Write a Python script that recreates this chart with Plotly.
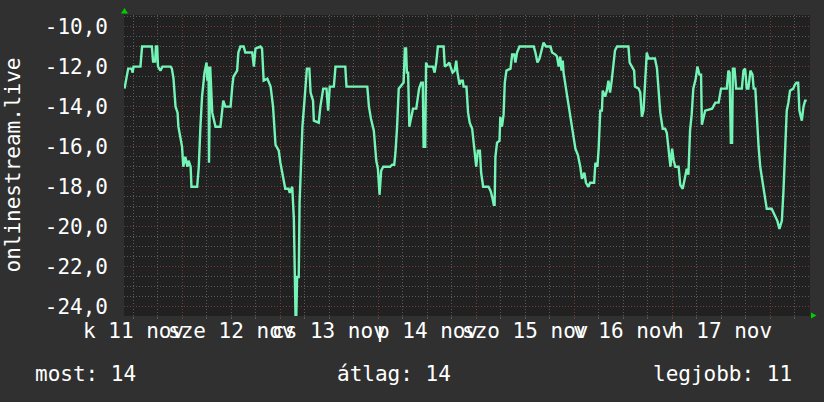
import pandas as pd
import plotly.graph_objects as go

# ---------------- data ----------------
start = "2025-11-11 00:00"
# hours since start
hours = [9.8, 10.2, 10.7, 11.5, 11.8, 12.0, 13.7, 14.1, 16.5, 16.8, 17.3, 17.5, 17.8, 18.0, 18.6, 19.1,
         21.1, 21.4, 21.8, 22.3, 22.8, 23.0, 23.9, 24.2, 24.7, 25.2, 25.5, 26.0, 26.2, 27.6, 28.0, 28.4,
         28.8, 29.4, 29.9, 30.1, 30.4, 30.5, 30.8, 31.3, 32.1, 33.3, 34.0, 34.5, 35.8, 36.2, 36.5, 37.4,
         37.7, 38.2, 39.0, 39.4, 41.1, 41.5, 41.9, 43.1, 43.5, 43.9, 44.8, 45.6, 46.2, 46.8, 47.6, 48.0,
         48.7, 49.2, 50.0, 50.3, 50.9, 51.3, 51.7, 51.9, 52.1, 52.5, 52.7, 53.1, 53.4, 53.9, 54.5, 55.1,
         55.4, 56.0, 56.2, 57.4, 57.8, 58.5, 59.3, 59.7, 60.1, 61.1, 61.5, 63.9, 64.2, 69.3, 69.7, 70.2,
         70.9, 71.5, 71.9, 72.3, 72.7, 73.2, 74.9, 75.4, 75.9, 76.2, 76.6, 77.0, 77.8, 78.2, 78.5, 78.8,
         79.0, 79.3, 79.6, 80.0, 80.5, 81.3, 81.6, 82.0, 82.5, 82.9, 83.1, 83.5, 83.7, 84.1, 85.4, 85.8,
         86.2, 86.6, 88.0, 88.3, 89.0, 89.4, 89.7, 90.2, 90.7, 91.1, 91.4, 91.9, 92.3, 92.7, 92.9, 93.6,
         94.0, 94.4, 95.0, 95.6, 96.0, 96.4, 96.9, 97.2, 97.7, 99.0, 99.5, 99.9, 100.3, 100.5, 100.7, 101.1,
         101.7, 101.9, 102.3, 102.7, 103.0, 103.4, 104.4, 104.8, 105.3, 105.6, 106.0, 106.6, 110.1, 110.5,
         111.0, 111.5, 112.0, 112.5, 113.1, 114.2, 114.6, 115.4, 115.8, 116.2, 116.6, 116.9, 117.2, 117.4,
         118.3, 119.1, 119.6, 120.3, 120.9, 121.5, 121.9, 122.5, 122.9, 123.5, 123.9, 124.9, 125.2, 125.7,
         126.0, 126.4, 126.8, 127.0, 127.6, 128.0, 128.4, 128.8, 129.2, 129.6, 130.0, 130.5, 133.3, 133.6,
         134.1, 134.7, 134.9, 135.8, 136.2, 136.6, 137.0, 137.4, 137.8, 138.2, 139.8, 140.3, 140.7, 141.1,
         141.7, 142.3, 142.7, 143.1, 143.6, 144.0, 144.4, 144.8, 145.6, 146.0, 146.6, 147.2, 147.6, 148.0,
         148.4, 148.8, 149.2, 149.8, 150.2, 150.7, 151.1, 151.3, 151.7, 152.1, 153.8, 154.6, 155.4, 156.0,
         157.4, 157.8, 158.1, 158.4, 158.7, 158.9, 159.3, 159.7, 161.1, 161.5, 161.9, 162.3, 162.7, 163.2,
         163.7, 164.0, 164.4, 164.8, 165.2, 165.6, 166.2, 166.8, 167.2, 168.4, 169.2, 169.8, 170.3, 170.9,
         171.3, 171.7, 172.1, 172.5, 172.9, 173.7, 174.1, 174.5, 174.9, 175.2, 175.5, 175.8, 176.2, 176.6,
         177.0]
values = [-13.1, -12.7, -12.1, -12.1, -12.3, -12.0, -12.0, -11.0, -11.0, -11.75, -11.75, -11.0, -11.0, -12.0, -12.2, -12.0,
          -12.0, -12.1, -12.6, -14.0, -14.3, -15.0, -16.0, -17.0, -16.5, -17.0, -16.7, -17.0, -18.0, -18.0, -17.0, -15.0,
          -13.5, -12.3, -11.8, -12.7, -12.0, -16.8, -12.0, -14.3, -15.0, -15.0, -13.7, -14.0, -14.0, -13.0, -12.5, -12.2,
          -11.3, -11.0, -11.0, -11.3, -11.3, -12.0, -11.1, -11.0, -11.1, -12.7, -12.6, -13.0, -14.0, -15.9, -16.2, -16.8,
          -17.5, -18.1, -18.1, -18.3, -18.0, -19.6, -24.4, -24.4, -22.5, -22.5, -18.8, -16.2, -15.0, -13.7, -12.1, -12.1,
          -13.3, -13.7, -14.7, -14.8, -14.0, -13.1, -13.1, -14.2, -13.0, -13.0, -12.0, -12.0, -13.0, -13.0, -14.0, -14.6,
          -15.2, -16.7, -17.1, -18.4, -17.2, -17.0, -17.0, -16.9, -16.9, -16.3, -15.0, -13.1, -12.9, -12.8, -11.1, -11.1,
          -12.3, -12.3, -15.0, -14.5, -14.1, -14.1, -13.7, -13.1, -12.8, -12.8, -16.0, -16.0, -11.8, -12.0, -12.0, -12.3,
          -11.8, -11.0, -11.0, -12.0, -11.9, -11.8, -12.0, -12.3, -12.2, -11.7, -12.3, -12.9, -12.7, -12.7, -13.0, -13.0,
          -14.3, -14.8, -15.1, -16.2, -17.0, -16.2, -16.2, -17.3, -18.0, -18.0, -18.2, -18.5, -18.9, -18.9, -16.5, -15.8,
          -15.7, -14.5, -15.0, -14.4, -12.8, -12.2, -12.1, -11.4, -11.4, -11.8, -11.3, -11.0, -11.0, -11.3,
          -11.8, -11.6, -11.2, -10.8, -11.0, -11.0, -11.3, -11.4, -11.5, -12.0, -11.5, -12.2, -11.7, -12.3,
          -13.5, -14.5, -15.3, -16.1, -16.4, -17.0, -17.6, -17.3, -17.8, -18.0, -17.8, -17.8, -16.8, -17.0,
          -16.1, -14.2, -14.2, -13.2, -13.5, -13.2, -12.7, -13.3, -12.7, -12.0, -11.2, -11.0, -11.0, -11.8,
          -12.0, -12.2, -13.0, -13.1, -13.3, -14.5, -14.2, -12.7, -11.3, -11.6, -11.6, -12.1, -13.3, -14.3,
          -15.1, -15.1, -15.3, -16.2, -17.0, -16.1, -16.7, -17.0, -17.0, -17.9, -18.1, -17.5, -17.1, -17.4,
          -15.2, -14.4, -13.1, -12.6, -12.0, -12.4, -12.4, -14.9, -14.6, -14.2, -14.1, -13.8, -13.8, -13.1,
          -13.1, -12.2, -12.3, -15.8, -15.8, -12.1, -12.1, -13.1, -13.1, -12.2, -12.1, -13.1, -13.1, -12.2,
          -12.4, -13.1, -13.1, -14.8, -16.0, -17.0, -17.8, -18.8, -19.1, -19.1, -19.4, -19.7, -20.1, -19.7,
          -18.2, -15.8, -14.2, -13.8, -13.2, -13.1, -12.9, -12.8, -12.8, -14.2, -14.5, -14.7, -14.0, -13.7,
          -13.7]

view_hours = [9.67, 177.8]
y_range = [-24.45, -9.425]
day_labels = ["k 11 nov", "sze 12 nov", "cs 13 nov", "p 14 nov", "szo 15 nov", "v 16 nov", "h 17 nov"]
y_ticks = [-24, -22, -20, -18, -16, -14, -12, -10]
y_tick_labels = ["-24,0", "-22,0", "-20,0", "-18,0", "-16,0", "-14,0", "-12,0", "-10,0"]
axis_title = "onlinestream.live"
summary_labels = ["most: 14", "átlag: 14", "legjobb: 11"]

# ---------------- style ----------------
FONT = "DejaVu Sans Mono"
FS = 21
PAPER = "#303030"
PLOT = "#212121"
LINE = "#74f4b6"
MINOR = "#5a5a5a"
MAJOR = "#7a3838"
TXT = "#ffffff"
DOTS = "1px,2px"

t0 = pd.Timestamp(start)
def ts(h):
    return (t0 + pd.Timedelta(hours=h)).strftime("%Y-%m-%d %H:%M:%S")

times = [ts(h) for h in hours]
xr = [ts(view_hours[0]), ts(view_hours[1])]
midnights = [ts(24 * i) for i in range(1, 8)]
noons = [ts(12 + 24 * i) for i in range(len(day_labels))]

fig = go.Figure()
fig.add_trace(go.Scatter(x=times, y=values, mode="lines",
                         line=dict(color=LINE, width=2.4), hoverinfo="skip", showlegend=False))

W, H = 824, 402
L, R, T, B = 124, 14, 15, 86
pw, ph = W - L - R, H - T - B

def px_x(x):
    return (x - L) / pw

def px_y(y):
    return (H - B - y) / ph

fig.update_layout(
    width=W, height=H,
    margin=dict(l=L, r=R, t=T, b=B, pad=0, autoexpand=False),
    paper_bgcolor=PAPER, plot_bgcolor=PLOT,
    font=dict(family=FONT, size=FS, color=TXT),
    showlegend=False,
    xaxis=dict(type="date", range=xr, tickmode="array", tickvals=midnights,
               showticklabels=False, showgrid=True, gridcolor=MAJOR, griddash=DOTS, gridwidth=1,
               ticks="outside", ticklen=2, tickcolor=MAJOR,
               minor=dict(tick0=ts(0), dtick=6 * 3600 * 1000, showgrid=True, gridcolor=MINOR,
                          griddash=DOTS, ticks="outside", ticklen=2, tickcolor=MINOR),
               zeroline=False, showline=False, fixedrange=True, automargin=False),
    yaxis=dict(range=y_range, tickmode="array", tickvals=y_ticks, ticktext=y_tick_labels,
               showgrid=True, gridcolor=MAJOR, griddash=DOTS, gridwidth=1,
               minor=dict(tick0=-10, dtick=0.5, showgrid=True, gridcolor=MINOR, griddash=DOTS),
               ticks="", ticklabelstandoff=15, zeroline=False, showline=False, automargin=False,
               tickfont=dict(family=FONT, size=FS, color=TXT), fixedrange=True),
)

annotations = [dict(text=axis_title, textangle=-90, xref="paper", yref="paper",
                    x=px_x(12), y=0.5, xanchor="center", yanchor="middle", showarrow=False,
                    font=dict(family=FONT, size=FS, color=TXT))]
for lab, nx in zip(day_labels, noons):
    annotations.append(dict(text=lab, xref="x", yref="paper", x=nx, y=px_y(331),
                            xanchor="center", yanchor="middle", showarrow=False,
                            font=dict(family=FONT, size=FS, color=TXT)))
summary_x = [33, 335, 651]
for lab, sx in zip(summary_labels, summary_x):
    annotations.append(dict(text=lab, xref="paper", yref="paper", x=px_x(sx), y=px_y(374),
                            xanchor="left", yanchor="middle", showarrow=False,
                            font=dict(family=FONT, size=FS, color=TXT)))
fig.update_layout(annotations=annotations)

def tri(pts):
    p = " L ".join(f"{px_x(a):.5f} {px_y(b):.5f}" for a, b in pts)
    return "M " + p + " Z"

fig.update_layout(shapes=[
    dict(type="path", xref="paper", yref="paper", path=tri([(121, 13.5), (128, 13.5), (124.5, 8)]),
         fillcolor="#00d000", line=dict(width=0), layer="above"),
    dict(type="path", xref="paper", yref="paper", path=tri([(811, 312.5), (811, 318.5), (816.5, 315.5)]),
         fillcolor="#00d000", line=dict(width=0), layer="above"),
])

fig.write_html("out.html", config={"displayModeBar": False, "staticPlot": True})
with open("out.html", encoding="utf-8") as f:
    html = f.read()
html = html.replace("<head>", "<head><style>html,body{margin:0;padding:0;background:%s;}</style>" % PAPER, 1)
with open("out.html", "w", encoding="utf-8") as f:
    f.write(html)
